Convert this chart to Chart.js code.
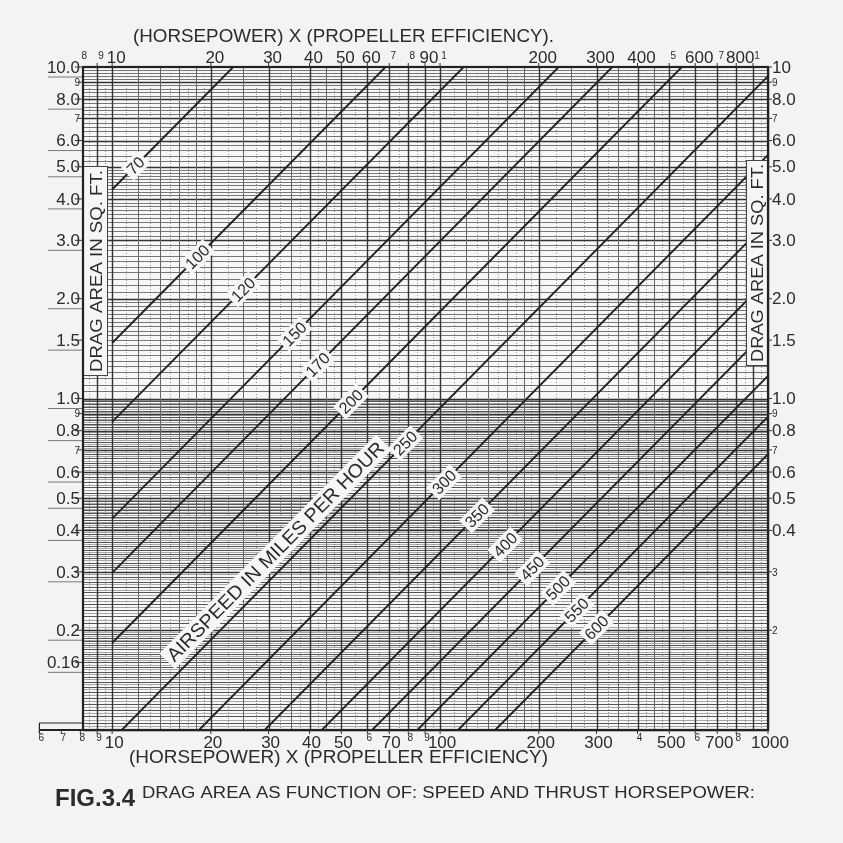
<!DOCTYPE html>
<html><head><meta charset="utf-8">
<script src="https://cdn.jsdelivr.net/npm/chart.js@4/dist/chart.umd.min.js"></script>
<style>html,body{margin:0;padding:0;background:#f3f3f1;}#wrap{width:843px;height:843px;position:relative}</style>
</head><body><div id="wrap"><canvas id="c" width="843" height="843"></canvas></div>
<script>
// ---- data ----
const speeds    = [70, 100, 120, 150, 170, 200, 250, 300, 350, 400, 450, 500, 550, 600];
const startHP   = [10, 10, 10, 10, 10, 10, 10.7, 18.4, 29.2, 43.6, 62.1, 85.3, 113.5, 147.3];
const startDrag = [4.27, 1.47, 0.85, 0.434, 0.298, 0.183, 0.1, 0.1, 0.1, 0.1, 0.1, 0.1, 0.1, 0.1];
const endHP     = [23.4, 68.2, 118, 230, 335, 546, 1000, 1000, 1000, 1000, 1000, 1000, 1000, 1000];
const endDrag   = [10, 10, 10, 10, 10, 10, 9.38, 5.43, 3.42, 2.29, 1.61, 1.17, 0.881, 0.679];
const labelHP   = [11.8, 18.2, 25.1, 36, 42.4, 53.5, 78.3, 103, 129.6, 158, 191, 229, 261, 300];

const topTickValues = [8, 9, 10, 20, 30, 40, 50, 60, 70, 80, 90, 100, 200, 300, 400, 500, 600, 700, 800, 900];
const topTickLabels = ['8','9','10','20','30','40','50','60','7','8','90','1','200','300','400','5','600','7','800','1'];
const bottomTickValues = [6, 7, 8, 9, 10, 20, 30, 40, 50, 60, 70, 80, 90, 100, 200, 300, 400, 500, 600, 700, 800, 1000];
const bottomTickLabels = ['6','7','8','9','10','20','30','40','50','6','70','8','9','100','200','300','4','500','6','700','8','1000'];
const leftYValues = [10, 9, 8, 7, 6, 5, 4, 3, 2, 1.5, 1, 0.9, 0.8, 0.7, 0.6, 0.5, 0.4, 0.3, 0.2, 0.16];
const leftYLabels = ['10.0','9','8.0','7','6.0','5.0','4.0','3.0','2.0','1.5','1.0','9','0.8','7','0.6','0.5','0.4','0.3','0.2','0.16'];
const rightYValues = [10, 9, 8, 7, 6, 5, 4, 3, 2, 1.5, 1, 0.9, 0.8, 0.7, 0.6, 0.5, 0.4, 0.3, 0.2];
const rightYLabels = ['10','9','8.0','7','6.0','5.0','4.0','3.0','2.0','1.5','1.0','9','0.8','7','0.6','0.5','0.4','3','2'];

const airspeedTitle = 'AIRSPEED IN MILES PER HOUR';
const airspeedTitleHP = 31.5, airspeedTitleDrag = 0.345;
const xTitleTop = '(HORSEPOWER) X (PROPELLER EFFICIENCY).';
const xTitleBottom = '(HORSEPOWER) X (PROPELLER EFFICIENCY)';
const yTitle = 'DRAG AREA IN SQ. FT.';
const figLabel = 'FIG.3.4';
const caption = 'DRAG AREA AS FUNCTION OF: SPEED AND THRUST HORSEPOWER:';

const FONT = '"Liberation Sans", Arial, sans-serif';
const INK = '#2b2b2b';

function fitText(ctx, str, x, y, w) {
  const m = ctx.measureText(str).width;
  ctx.save(); ctx.translate(x, y); ctx.scale(w / m, 1);
  ctx.textAlign = 'left'; ctx.fillText(str, 0, 0); ctx.restore();
}

function gridValues(decades, segs) {
  const out = [];
  for (const b of decades) for (const [a, c, s, kind] of segs) {
    const n = Math.round((c - a) / s);
    for (let k = 0; k < n; k++) {
      const m = a + k * s;
      const isInt = Math.abs(m - Math.round(m)) < 1e-9;
      out.push({ v: m * b, kind: isInt ? 'major' : kind, dec: b });
    }
  }
  return out;
}

const gridPlugin = {
  id: 'grid',
  beforeDatasetsDraw(chart) {
    const { ctx, chartArea: a, scales: { x, y } } = chart;
    ctx.save();
    ctx.fillStyle = '#f7f7f5';
    ctx.fillRect(a.left, a.top, a.right - a.left, a.bottom - a.top);
    const hs = gridValues([0.1, 1], [[1,2,0.05,'minor'],[2,5,0.1,'minor'],[5,10,0.2,'minor']]);
    const halves = [];
    for (const [a0, c0, s] of [[1,2,0.05],[2,5,0.1],[5,10,0.2]]) {
      const n = Math.round((c0 - a0) / s);
      for (let k = 0; k < n; k++) halves.push((a0 + (k + 0.5) * s) * 0.1);
    }
    ctx.lineWidth = 1;
    ctx.strokeStyle = 'rgba(70,70,70,0.45)';
    for (const v of halves) {
      const py = Math.round(y.getPixelForValue(v)) + 0.5;
      ctx.beginPath(); ctx.moveTo(a.left, py); ctx.lineTo(a.right, py); ctx.stroke();
    }
    for (const o of hs) {
      if (o.v < 0.1 || o.v > 10) continue;
      const py = Math.round(y.getPixelForValue(o.v)) + 0.5;
      ctx.strokeStyle = o.kind === 'major' ? '#333' : (o.dec < 1 ? '#555' : '#777');
      ctx.lineWidth = o.kind === 'major' ? 1.4 : 1;
      ctx.beginPath(); ctx.moveTo(a.left, py); ctx.lineTo(a.right, py); ctx.stroke();
    }
    const vsolid = gridValues([1, 10, 100], [[1,2,0.2,'minor'],[2,5,0.5,'minor'],[5,10,1,'minor']]);
    const vdot = gridValues([1, 10, 100], [[1,2,0.1,'dot'],[2,5,0.25,'dot'],[5,10,0.5,'dot']]);
    ctx.setLineDash([1, 2]);
    ctx.strokeStyle = 'rgba(60,60,60,0.5)'; ctx.lineWidth = 1;
    for (const o of vdot) {
      if (o.kind === 'major' || o.v < 8.15 || o.v > 1000) continue;
      const px = Math.round(x.getPixelForValue(o.v)) + 0.5;
      ctx.beginPath(); ctx.moveTo(px, a.top); ctx.lineTo(px, a.bottom); ctx.stroke();
    }
    ctx.setLineDash([]);
    for (const o of vsolid.concat([{v: 1000, kind: 'major'}])) {
      if (o.v < 8.15 || o.v > 1000) continue;
      const px = Math.round(x.getPixelForValue(o.v)) + 0.5;
      ctx.strokeStyle = o.kind === 'major' ? '#333' : '#666';
      ctx.lineWidth = o.kind === 'major' ? 1.4 : 1;
      ctx.beginPath(); ctx.moveTo(px, a.top); ctx.lineTo(px, a.bottom); ctx.stroke();
    }
    ctx.restore();
  }
};

const overlayPlugin = {
  id: 'overlay',
  afterDatasetsDraw(chart) {
    const { ctx, chartArea: a, scales: { x, y } } = chart;
    ctx.save();
    ctx.font = '16px ' + FONT;
    ctx.textBaseline = 'middle'; ctx.textAlign = 'center';
    speeds.forEach((v, i) => {
      const x0 = Math.log10(startHP[i]), x1 = Math.log10(endHP[i]);
      const y0 = Math.log10(startDrag[i]), y1 = Math.log10(endDrag[i]);
      const t = (Math.log10(labelHP[i]) - x0) / (x1 - x0);
      const ly = Math.pow(10, y0 + t * (y1 - y0));
      const px = x.getPixelForValue(labelHP[i]), py = y.getPixelForValue(ly);
      const ang = Math.atan2(y.getPixelForValue(endDrag[i]) - y.getPixelForValue(startDrag[i]),
                             x.getPixelForValue(endHP[i]) - x.getPixelForValue(startHP[i]));
      const s = String(v);
      const w = ctx.measureText(s).width;
      ctx.save(); ctx.translate(px, py); ctx.rotate(ang);
      ctx.fillStyle = '#f6f6f4'; ctx.fillRect(-w / 2 - 3, -9, w + 6, 18);
      ctx.fillStyle = INK; ctx.fillText(s, 0, 1);
      ctx.restore();
    });
    {
      const px = x.getPixelForValue(airspeedTitleHP), py = y.getPixelForValue(airspeedTitleDrag);
      const ang = Math.atan2(y.getPixelForValue(endDrag[7]) - y.getPixelForValue(startDrag[7]),
                             x.getPixelForValue(endHP[7]) - x.getPixelForValue(startHP[7]));
      ctx.font = '19px ' + FONT;
      const w = 300;
      ctx.save(); ctx.translate(px, py); ctx.rotate(ang);
      ctx.fillStyle = '#f6f6f4'; ctx.fillRect(-w / 2 - 4, -11, w + 8, 22);
      ctx.fillStyle = INK; ctx.textBaseline = 'middle';
      fitText(ctx, airspeedTitle, -w / 2, 1, w);
      ctx.restore();
    }
    ctx.font = '17px ' + FONT;
    const drawYTitle = (cx, top, bottom, bl, br) => {
      ctx.fillStyle = '#f6f6f4'; ctx.fillRect(bl, top, br - bl, bottom - top);
      ctx.strokeStyle = '#444'; ctx.lineWidth = 1;
      ctx.strokeRect(bl + 0.5, top + 0.5, br - bl - 1, bottom - top - 1);
      ctx.save(); ctx.translate(cx, bottom - 4); ctx.rotate(-Math.PI / 2);
      ctx.fillStyle = INK; ctx.textBaseline = 'middle';
      fitText(ctx, yTitle, 0, 1, bottom - top - 8);
      ctx.restore();
    };
    drawYTitle(96, 166, 376, a.left, 108);
    drawYTitle(757, 160, 366, 746, a.right);
    ctx.strokeStyle = '#222'; ctx.lineWidth = 2.2;
    ctx.strokeRect(a.left, a.top, a.right - a.left, a.bottom - a.top);
    const ext = x.getPixelForValue(6);
    ctx.lineWidth = 2;
    ctx.beginPath(); ctx.moveTo(ext, a.bottom); ctx.lineTo(a.left, a.bottom); ctx.stroke();
    ctx.lineWidth = 1.2;
    ctx.beginPath(); ctx.moveTo(ext, a.bottom - 7); ctx.lineTo(a.left, a.bottom - 7); ctx.stroke();
    ctx.beginPath(); ctx.moveTo(ext, a.bottom - 7); ctx.lineTo(ext, a.bottom + 3); ctx.stroke();
    ctx.fillStyle = INK; ctx.textAlign = 'center'; ctx.textBaseline = 'middle';
    topTickValues.forEach((v, i) => {
      const s = topTickLabels[i];
      ctx.font = (s.length === 1 ? '10px ' : '17px ') + FONT;
      ctx.fillText(s, x.getPixelForValue(v) + 4, s.length === 1 ? 56 : 58);
      ctx.lineWidth = 1; ctx.strokeStyle = '#333';
      const px = x.getPixelForValue(v);
      if (v >= 8.15) { ctx.beginPath(); ctx.moveTo(px, a.top); ctx.lineTo(px, a.top - 4); ctx.stroke(); }
    });
    bottomTickValues.forEach((v, i) => {
      const s = bottomTickLabels[i];
      ctx.font = (s.length === 1 ? '10px ' : '17px ') + FONT;
      ctx.fillText(s, x.getPixelForValue(v) + 2, s.length === 1 ? 738 : 743);
      const px = x.getPixelForValue(v);
      ctx.beginPath(); ctx.moveTo(px, a.bottom); ctx.lineTo(px, a.bottom + 4); ctx.stroke();
    });
    ctx.textAlign = 'right';
    leftYValues.forEach((v, i) => {
      const s = leftYLabels[i];
      const py = y.getPixelForValue(v);
      ctx.font = (s.length === 1 ? '10px ' : '17px ') + FONT;
      ctx.fillStyle = INK;
      ctx.fillText(s, a.left - 3, py + 1);
      ctx.strokeStyle = '#333'; ctx.lineWidth = 1;
      ctx.beginPath(); ctx.moveTo(a.left - (s.length === 1 ? 5 : 8), py); ctx.lineTo(a.left, py); ctx.stroke();
      if (s.length > 1) {
        ctx.strokeStyle = 'rgba(40,40,40,0.6)';
        ctx.beginPath(); ctx.moveTo(a.left - 35, py + 10); ctx.lineTo(a.left, py + 10); ctx.stroke();
      }
    });
    ctx.textAlign = 'left';
    rightYValues.forEach((v, i) => {
      const s = rightYLabels[i];
      const py = y.getPixelForValue(v);
      ctx.font = (s.length === 1 ? '10px ' : '17px ') + FONT;
      ctx.fillStyle = INK;
      ctx.fillText(s, a.right + 4, py + 1);
      ctx.strokeStyle = '#333'; ctx.lineWidth = 1;
      ctx.beginPath(); ctx.moveTo(a.right, py); ctx.lineTo(a.right + 4, py); ctx.stroke();
    });
    ctx.fillStyle = INK; ctx.textBaseline = 'middle';
    ctx.font = '18px ' + FONT;
    fitText(ctx, xTitleTop, 133, 37, 421);
    fitText(ctx, xTitleBottom, 129, 758, 419);
    ctx.font = 'bold 24px ' + FONT;
    fitText(ctx, figLabel, 55, 799, 80);
    ctx.font = '16px ' + FONT;
    fitText(ctx, caption, 142, 794, 613);
    ctx.restore();
  }
};

const datasets = speeds.map((v, i) => ({
  label: String(v),
  data: [{ x: startHP[i], y: startDrag[i] }, { x: endHP[i], y: endDrag[i] }],
  borderColor: '#222', borderWidth: 1.9, pointRadius: 0, tension: 0, fill: false
}));

new Chart(document.getElementById('c').getContext('2d'), {
  type: 'line',
  data: { datasets },
  options: {
    responsive: false, animation: false, events: [],
    layout: { padding: { left: 83, right: 75, top: 67, bottom: 113 } },
    plugins: { legend: { display: false }, tooltip: { enabled: false } },
    scales: {
      x: { type: 'logarithmic', min: 8.15, max: 1000, display: false },
      y: { type: 'logarithmic', min: 0.1, max: 10, display: false }
    }
  },
  plugins: [gridPlugin, overlayPlugin]
});
</script></body></html>
